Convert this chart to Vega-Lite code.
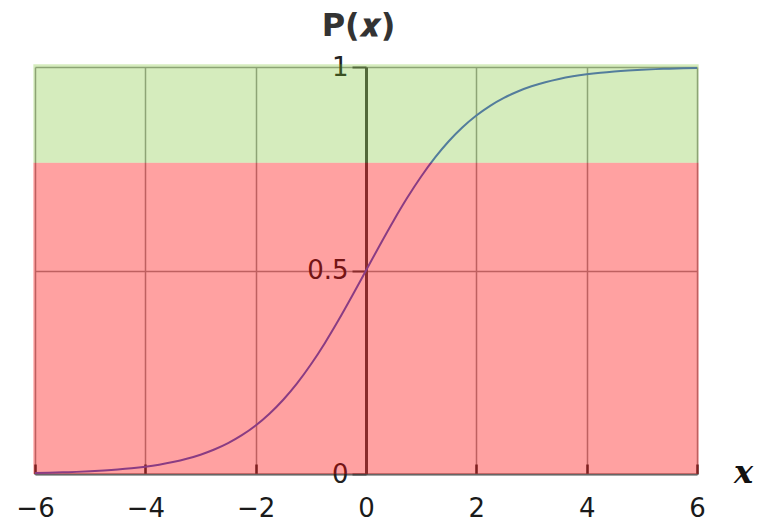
{
  "$schema": "https://vega.github.io/schema/vega-lite/v6.json",
  "width": 662,
  "height": 407,
  "autosize": {"type": "none"},
  "padding": {"left": 35, "top": 67, "right": 65, "bottom": 47},
  "background": "white",
  "config": {"view": {"stroke": null}},
  "datasets": {
    "curve": [
      {"x": -6, "p": 0.00247}, {"x": -5.75, "p": 0.00317}, {"x": -5.5, "p": 0.00407}, {"x": -5.25, "p": 0.00522},
      {"x": -5, "p": 0.00669}, {"x": -4.75, "p": 0.00858}, {"x": -4.5, "p": 0.01099}, {"x": -4.25, "p": 0.01406},
      {"x": -4, "p": 0.01799}, {"x": -3.75, "p": 0.02298}, {"x": -3.5, "p": 0.02931}, {"x": -3.25, "p": 0.03732},
      {"x": -3, "p": 0.04743}, {"x": -2.75, "p": 0.06012}, {"x": -2.5, "p": 0.07586}, {"x": -2.25, "p": 0.09534},
      {"x": -2, "p": 0.1192}, {"x": -1.75, "p": 0.14805}, {"x": -1.5, "p": 0.18243}, {"x": -1.25, "p": 0.2227},
      {"x": -1, "p": 0.26894}, {"x": -0.75, "p": 0.32082}, {"x": -0.5, "p": 0.37754}, {"x": -0.25, "p": 0.43782},
      {"x": 0, "p": 0.5}, {"x": 0.25, "p": 0.56218}, {"x": 0.5, "p": 0.62246}, {"x": 0.75, "p": 0.67918},
      {"x": 1, "p": 0.73106}, {"x": 1.25, "p": 0.7773}, {"x": 1.5, "p": 0.81757}, {"x": 1.75, "p": 0.85195},
      {"x": 2, "p": 0.8808}, {"x": 2.25, "p": 0.90466}, {"x": 2.5, "p": 0.92414}, {"x": 2.75, "p": 0.93988},
      {"x": 3, "p": 0.95257}, {"x": 3.25, "p": 0.96268}, {"x": 3.5, "p": 0.97069}, {"x": 3.75, "p": 0.97702},
      {"x": 4, "p": 0.98201}, {"x": 4.25, "p": 0.98594}, {"x": 4.5, "p": 0.98901}, {"x": 4.75, "p": 0.99142},
      {"x": 5, "p": 0.99331}, {"x": 5.25, "p": 0.99478}, {"x": 5.5, "p": 0.99593}, {"x": 5.75, "p": 0.99683},
      {"x": 6, "p": 0.99753}
    ],
    "zones": [
      {"zone": "low", "x1": -6.03, "x2": 6.03, "y1": 0, "y2": 0.765},
      {"zone": "high", "x1": -6.03, "x2": 6.03, "y1": 0.765, "y2": 1.007}
    ]
  },
  "layer": [
    {
      "data": {"name": "curve"},
      "mark": {"type": "line", "color": "#4660d0", "strokeWidth": 2, "interpolate": "monotone", "clip": false},
      "encoding": {
        "x": {
          "field": "x", "type": "quantitative",
          "scale": {"domain": [-6, 6], "nice": false, "zero": false},
          "axis": {
            "values": [-6, -4, -2, 0, 2, 4, 6], "format": "~g",
            "grid": true, "gridColor": "#999", "gridWidth": 1.5, "gridOpacity": 1,
            "domainColor": "#666", "domainWidth": 2,
            "tickColor": "#333", "tickWidth": 2.5, "tickSize": -10,
            "labelFont": "DejaVu Sans", "labelFontSize": 26, "labelColor": "#1a1a1a",
            "labelPadding": 44, "labelBaseline": "middle", "labelFlush": false,
            "title": "x", "titleFont": "DejaVu Serif", "titleFontStyle": "italic", "titleFontWeight": "bold",
            "titleFontSize": 32, "titleColor": "#111",
            "titleX": 708, "titleY": -2, "titleAlign": "center", "titleBaseline": "middle", "titleAngle": 0
          }
        },
        "y": {
          "field": "p", "type": "quantitative",
          "scale": {"domain": [0, 1], "nice": false},
          "axis": {
            "values": [0, 0.5, 1], "format": "~g",
            "offset": -331,
            "grid": true, "gridColor": "#999", "gridWidth": 1.5, "gridOpacity": 1,
            "domainColor": "#444", "domainWidth": 3,
            "tickColor": "#444", "tickWidth": 2, "tickSize": 14,
            "labelFont": "DejaVu Sans", "labelFontSize": 26, "labelColor": "#222",
            "labelPadding": 4, "labelFlush": false,
            "title": "P(𝒙)", "titleFont": "DejaVu Sans", "titleFontWeight": "bold",
            "titleFontSize": 32, "titleColor": "#333",
            "titleAngle": 0, "titleX": -8, "titleY": -32, "titleAlign": "center", "titleBaseline": "alphabetic"
          }
        }
      }
    },
    {
      "data": {"name": "zones"},
      "mark": {"type": "rect", "clip": false},
      "encoding": {
        "x": {"field": "x1", "type": "quantitative"},
        "x2": {"field": "x2"},
        "y": {"field": "y1", "type": "quantitative"},
        "y2": {"field": "y2"},
        "color": {"field": "zone", "type": "nominal", "scale": {"domain": ["low", "high"], "range": ["#ff0000", "#73c026"]}, "legend": null},
        "opacity": {"field": "zone", "type": "nominal", "scale": {"domain": ["low", "high"], "range": [0.37, 0.3]}, "legend": null}
      }
    }
  ]
}
